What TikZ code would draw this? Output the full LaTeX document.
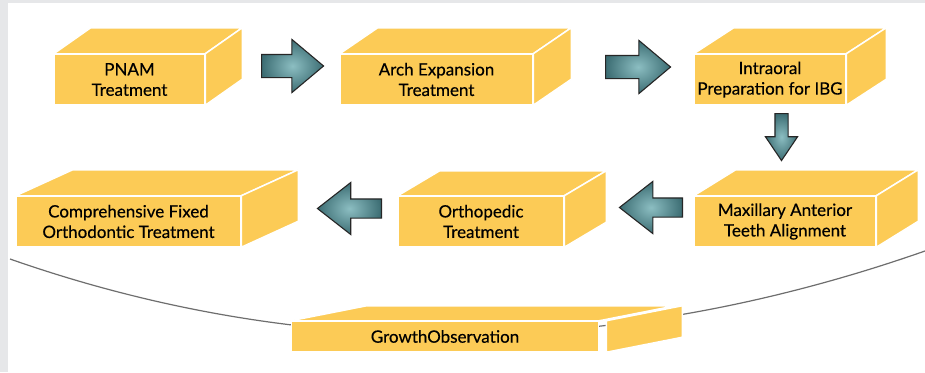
\documentclass[tikz,border=0pt]{standalone}
\usepackage{fontspec}
\setmainfont{Lato}[FakeBold=0.35]
\usetikzlibrary{shapes.arrows,calc}

\definecolor{boxyellow}{HTML}{FCCB56}
\definecolor{arrowlight}{HTML}{8CBEC2}
\definecolor{arrowdark}{HTML}{3C6D73}
\definecolor{framegray}{HTML}{E6E7E9}
\definecolor{curvegray}{HTML}{6E6E6E}

\tikzset{
  frontface/.style={rectangle, fill=boxyellow, draw=white, line width=1.5pt,
    align=center, inner sep=0pt, text=black,
    font=\fontsize{17}{20.5}\selectfont},
  sideface/.style={fill=boxyellow, draw=white, line width=1.5pt},
  blockarrow/.style={single arrow, single arrow head indent=0pt,
    shading=radial, inner color=arrowlight, outer color=arrowdark,
    draw=black!85, line width=1.1pt, inner xsep=0pt, inner ysep=0pt,
    text depth=0pt, anchor=tail}
}

% top and right face of a box: node, depth x, depth y, gap of the right face
\newcommand{\boxfaces}[4]{%
  \filldraw[sideface] (#1.north west) -- ++(#2,#3) -- ($(#1.north east)+(#2,#3)$) -- (#1.north east) -- cycle;
  \filldraw[sideface] ($(#1.north east)+(#4,0)$) -- ++(#2,#3) -- ($(#1.south east)+(#2+#4,#3)$) -- ($(#1.south east)+(#4,0)$) -- cycle;
}

\begin{document}
\begin{tikzpicture}[x=1pt,y=-1pt]

    \useasboundingbox (0,0) rectangle (925,372);
    \fill[framegray] (0,0) rectangle (925,372);
    \fill[white] (8,3) rectangle (925,372);

    % arc behind the last box
    \coordinate (arcL) at (10,259);
    \coordinate (arcR) at (925,251);
    \draw[curvegray, line width=1.2pt] (arcL) .. controls (301,361) and (611,361) .. (arcR);

    % first row
    \node[frontface, minimum width=150, minimum height=50] (pnam) at (129.5,79.5) {PNAM\\Treatment};
    \boxfaces{pnam}{37}{-26}{0}
    \node[frontface, minimum width=192, minimum height=50] (arch) at (436.5,79.5) {Arch Expansion\\Treatment};
    \boxfaces{arch}{38}{-26}{0}
    \node[frontface, minimum width=151, minimum height=50] (intra) at (770,79.5) {Intraoral\\Preparation for IBG};
    \boxfaces{intra}{40}{-26}{0}

    % second row
    \node[frontface, minimum width=181, minimum height=50] (maxil) at (785,221.5) {Maxillary Anterior\\Teeth Alignment};
    \boxfaces{maxil}{42}{-26}{0}
    \node[frontface, minimum width=165, minimum height=50] (ortho) at (481,221.5) {Orthopedic\\Treatment};
    \boxfaces{ortho}{42}{-25}{0}
    \node[frontface, minimum width=224, minimum height=50] (compr) at (128.5,221.5) {Comprehensive Fixed\\Orthodontic Treatment};
    \boxfaces{compr}{57}{-26}{0}

    % growth observation
    \node[frontface, minimum width=307, minimum height=30] (growth) at (445,336.5) {GrowthObservation};
    \boxfaces{growth}{76}{-15}{7}

    % block arrows
    \node[blockarrow, text width=0pt, text height=22pt, single arrow head extend=15pt, single arrow tip angle=80, minimum height=62pt] (a1) at (261,66) {};
    \node[blockarrow, text width=0pt, text height=22pt, single arrow head extend=15pt, single arrow tip angle=80, minimum height=65pt] (a2) at (605,67) {};
    \node[blockarrow, text width=12pt, text height=0pt, single arrow head extend=9.5pt, single arrow tip angle=68, minimum height=47pt, shape border rotate=270] (a3) at (781.5,113) {};
    \node[blockarrow, text width=0pt, text height=18pt, single arrow head extend=16.5pt, single arrow tip angle=76, minimum height=63pt, shape border rotate=180] (a4) at (683,207.5) {};
    \node[blockarrow, text width=0pt, text height=18pt, single arrow head extend=16.5pt, single arrow tip angle=76, minimum height=64pt, shape border rotate=180] (a5) at (382,208.5) {};

\end{tikzpicture}
\end{document}
